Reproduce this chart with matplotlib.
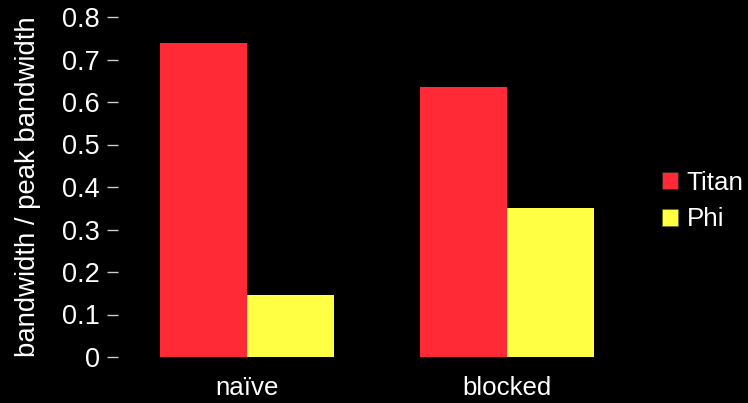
import matplotlib
matplotlib.use("Agg")
import matplotlib.pyplot as plt
import numpy as np
from matplotlib.patches import Patch

categories = ["naïve", "blocked"]
series_names = ["Titan", "Phi"]
titan_values = [0.739, 0.635]
phi_values = [0.146, 0.351]
y_ticks = [0, 0.1, 0.2, 0.3, 0.4, 0.5, 0.6, 0.7, 0.8]
y_tick_labels = ["0", "0.1", "0.2", "0.3", "0.4", "0.5", "0.6", "0.7", "0.8"]

colors = ["#ff2a35", "#ffff44"]

plt.rcParams['font.family'] = ['Liberation Sans', 'DejaVu Sans']

fig = plt.figure(figsize=(7.48, 4.03), dpi=100, facecolor="black")
W, H = 748, 403
left, right, top, bottom = 118, 636, 17, 357
ax = fig.add_axes([left / W, (H - bottom) / H, (right - left) / W, (bottom - top) / H])
ax.set_facecolor("black")

x = np.arange(1, len(categories) + 1)
w = 1 / 3
ax.bar(x - w / 2, titan_values, width=w, color=colors[0], label=series_names[0])
ax.bar(x + w / 2, phi_values, width=w, color=colors[1], label=series_names[1])

ax.set_xlim(0.504, 2.496)
ax.set_ylim(0, 0.8)
ax.set_xticks(x)
ax.set_xticklabels(categories)
ax.set_yticks(y_ticks)
ax.set_yticklabels(y_tick_labels)
for s in ax.spines.values():
    s.set_visible(False)
ax.tick_params(axis='y', colors="#cccccc", length=8, width=1, pad=5, labelsize=19.5, labelcolor="white")
ax.tick_params(axis='x', length=0, pad=14, labelsize=18.6, labelcolor="white")
ax.set_ylabel("bandwidth / peak bandwidth", color="white", fontsize=19.8, labelpad=15)

handles = [Patch(facecolor=colors[0], edgecolor="#222222", linewidth=0.5),
           Patch(facecolor=colors[1], edgecolor="#666600", linewidth=0.5)]
leg = fig.legend(handles, series_names, loc="center left",
                 bbox_to_anchor=(649 / W, 1 - 201 / H), frameon=False,
                 fontsize=18.7, handlelength=0.6, handleheight=0.6,
                 handletextpad=0.35, labelspacing=0.5, borderpad=0)
for t in leg.get_texts():
    t.set_color("white")

fig.savefig("out.png", dpi=100, facecolor="black")
